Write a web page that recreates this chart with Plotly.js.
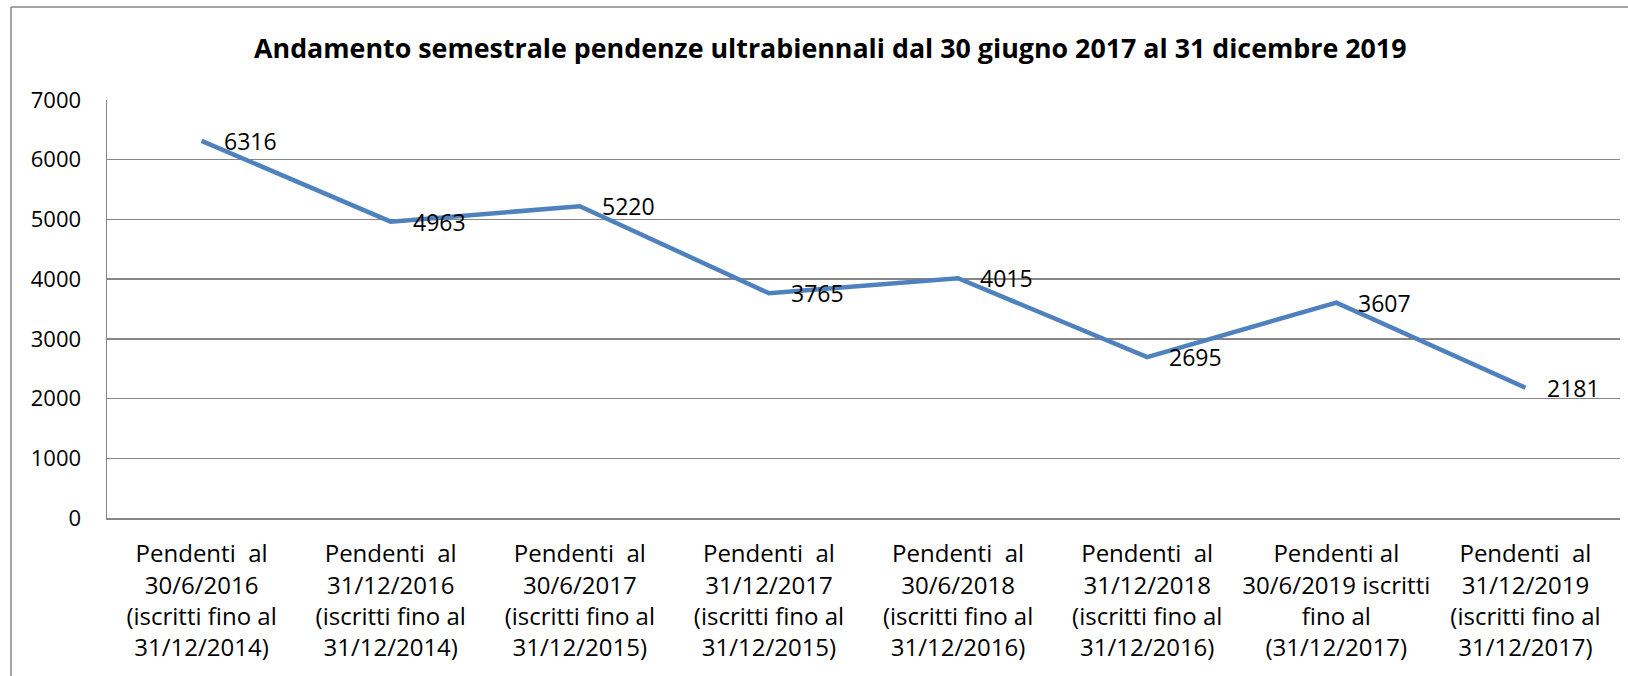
<!DOCTYPE html>
<html>
<head>
<meta charset="utf-8">
<script src="https://cdn.plot.ly/plotly-3.0.1.min.js"></script>
<style>
  html, body { margin: 0; padding: 0; background: #ffffff; }
  #chart { width: 1628px; height: 676px; }
</style>
</head>
<body>
<div id="chart"></div>
<script>
const chartTitle = "Andamento semestrale pendenze ultrabiennali dal 30 giugno 2017 al 31 dicembre 2019";
const categories = [
  "Pendenti  al<br>30/6/2016<br>(iscritti fino al<br>31/12/2014)",
  "Pendenti  al<br>31/12/2016<br>(iscritti fino al<br>31/12/2014)",
  "Pendenti  al<br>30/6/2017<br>(iscritti fino al<br>31/12/2015)",
  "Pendenti  al<br>31/12/2017<br>(iscritti fino al<br>31/12/2015)",
  "Pendenti  al<br>30/6/2018<br>(iscritti fino al<br>31/12/2016)",
  "Pendenti  al<br>31/12/2018<br>(iscritti fino al<br>31/12/2016)",
  "Pendenti al<br>30/6/2019 iscritti<br>fino al<br>(31/12/2017)",
  "Pendenti  al<br>31/12/2019<br>(iscritti fino al<br>31/12/2017)"
];
const values = [6316, 4963, 5220, 3765, 4015, 2695, 3607, 2181];
const yTicks = [0, 1000, 2000, 3000, 4000, 5000, 6000, 7000];

const FONT = "Open Sans, Noto Sans, sans-serif";
const GRID = "#868686";

const trace = {
  type: "scatter",
  mode: "lines",
  x: categories,
  y: values,
  line: { color: "#4F81BD", width: 4.5 },
  hoverinfo: "x+y",
  showlegend: false
};

const labelAnnotations = values.map((v, i) => ({
  x: categories[i],
  y: v,
  xref: "x",
  yref: "y",
  text: String(v),
  showarrow: false,
  xanchor: "left",
  yanchor: "middle",
  xshift: 20,
  font: { family: FONT, size: 23, color: "#000000" }
}));

const layout = {
  width: 1628,
  height: 676,
  paper_bgcolor: "#ffffff",
  plot_bgcolor: "#ffffff",
  margin: { l: 107, r: 8, t: 100, b: 158, pad: 0 },
  font: { family: FONT, size: 22, color: "#000000" },
  title: {
    text: "<b>" + chartTitle + "</b>",
    font: { family: FONT, size: 26.8, color: "#000000" },
    x: 0.51,
    xref: "container",
    xanchor: "center",
    y: 1 - 49 / 676,
    yref: "container",
    yanchor: "middle"
  },
  xaxis: {
    type: "category",
    range: [-0.5, 7.5],
    showline: true,
    linecolor: GRID,
    linewidth: 1.5,
    showgrid: false,
    zeroline: false,
    ticks: "",
    tickangle: 0,
    ticklabelstandoff: 14,
    tickfont: { family: FONT, size: 24, color: "#000000" },
    fixedrange: true
  },
  yaxis: {
    range: [0, 7000],
    tickvals: yTicks,
    ticktext: yTicks.map(String),
    showline: true,
    linecolor: GRID,
    linewidth: 1.5,
    showgrid: true,
    gridcolor: GRID,
    gridwidth: 1.5,
    zeroline: false,
    ticks: "",
    ticklabelstandoff: 20,
    tickfont: { family: FONT, size: 22, color: "#000000" },
    fixedrange: true
  },
  shapes: [
    { type: "line", xref: "paper", yref: "paper",
      x0: (11 - 107) / 1513, x1: (11 - 107) / 1513,
      y0: (518 - 7) / 418, y1: (518 - 700) / 418,
      line: { color: GRID, width: 1.5 } },
    { type: "line", xref: "paper", yref: "paper",
      x0: (11 - 107) / 1513, x1: (1640 - 107) / 1513,
      y0: (518 - 7) / 418, y1: (518 - 7) / 418,
      line: { color: GRID, width: 1.5 } }
  ],
  annotations: labelAnnotations
};

Plotly.newPlot("chart", [trace], layout, { displayModeBar: false, staticPlot: true });
</script>
</body>
</html>
